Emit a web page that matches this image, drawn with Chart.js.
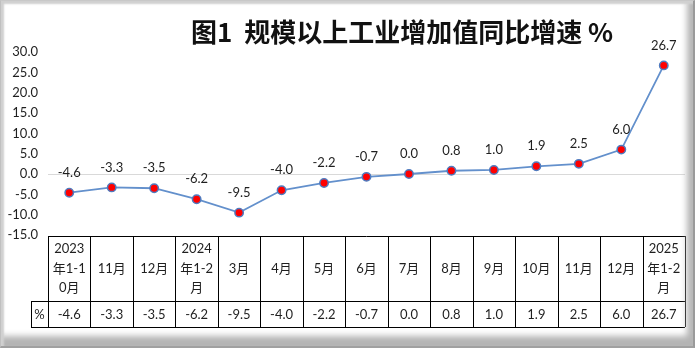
<!DOCTYPE html>
<html>
<head>
<meta charset="utf-8">
<script src="https://cdn.jsdelivr.net/npm/chart.js@4/dist/chart.umd.min.js"></script>
<style>
  html, body { margin: 0; padding: 0; background: #fff; }
  #wrap { position: relative; width: 695px; height: 348px; }
  #frame {
    position: absolute; left: 0; top: 0; width: 695px; height: 348px;
    box-sizing: border-box; pointer-events: none;
    border-top: 1px solid #c8c8c8; border-left: 1px solid #c0c0c0;
    border-right: 2px solid #9a9a9a; border-bottom: 2px solid #a0a0a0;
    box-shadow: inset 3px 3px 2px #d0d0d0, inset -6px -10px 6px #b4b4b4;
  }
</style>
</head>
<body>
<div id="wrap">
  <canvas id="canvas" width="695" height="348"></canvas>
  <div id="frame"></div>
</div>
<script>
const categories = [
  ['2023', '年1-1', '0月'], '11月', '12月', ['2024', '年1-2', '月'], '3月', '4月', '5月',
  '6月', '7月', '8月', '9月', '10月', '11月', '12月', ['2025', '年1-2', '月']
];
const growth = [-4.6, -3.3, -3.5, -6.2, -9.5, -4.0, -2.2, -0.7, 0.0, 0.8, 1.0, 1.9, 2.5, 6.0, 26.7];
const yTicks = [-15, -10, -5, 0, 5, 10, 15, 20, 25, 30];
const unitLabel = '%';
const titleText = '图1  规模以上工业增加值同比增速 %';

const numFont = '13px Lato, "Noto Sans CJK SC", sans-serif';
const textColor = '#1f1f1f';

// title, value labels above the points and the data table under the axis
const extras = {
  id: 'extras',
  afterDraw(chart) {
    const ctx = chart.ctx;
    const x = chart.scales.x;
    const area = chart.chartArea;
    const meta = chart.getDatasetMeta(0);

    ctx.save();
    ctx.fillStyle = '#111';
    ctx.font = 'bold 26px "Noto Sans CJK SC", serif';
    ctx.textAlign = 'left';
    ctx.textBaseline = 'middle';
    ctx.fillText(titleText, 191, 32);

    ctx.font = numFont;
    ctx.fillStyle = textColor;
    ctx.textAlign = 'center';
    meta.data.forEach((pt, i) => {
      ctx.fillText(growth[i].toFixed(1), pt.x, pt.y - 20);
    });

    // table
    const step = x.getPixelForValue(1) - x.getPixelForValue(0);
    const left = x.getPixelForValue(0) - step / 2;
    const right = left + step * categories.length;
    const top = area.bottom + 1, mid = top + 65, bottom = mid + 26, unitLeft = 31;
    ctx.strokeStyle = '#000';
    ctx.lineWidth = 1;
    ctx.beginPath();
    ctx.moveTo(left, top + 0.5); ctx.lineTo(right, top + 0.5);
    ctx.moveTo(unitLeft, mid + 0.5); ctx.lineTo(right, mid + 0.5);
    ctx.moveTo(unitLeft, bottom + 0.5); ctx.lineTo(right, bottom + 0.5);
    ctx.moveTo(unitLeft + 0.5, mid); ctx.lineTo(unitLeft + 0.5, bottom);
    for (let i = 0; i <= categories.length; i++) {
      const cx = Math.round(left + step * i) + 0.5;
      ctx.moveTo(cx, top); ctx.lineTo(cx, bottom);
    }
    ctx.stroke();

    categories.forEach((c, i) => {
      const cx = left + step * (i + 0.5);
      const lines = Array.isArray(c) ? c : [c];
      lines.forEach((ln, j) => {
        ctx.fillText(ln, cx, (top + mid) / 2 + (j - (lines.length - 1) / 2) * 19.5);
      });
      ctx.fillText(growth[i].toFixed(1), cx, (mid + bottom) / 2 + 1);
    });
    ctx.fillText(unitLabel, (unitLeft + left) / 2, (mid + bottom) / 2 + 1);
    ctx.restore();
  }
};

new Chart(document.getElementById('canvas'), {
  type: 'line',
  data: {
    labels: categories,
    datasets: [{
      data: growth,
      borderColor: '#6390cc',
      borderWidth: 1.8,
      pointBackgroundColor: '#ff0000',
      pointBorderColor: '#4f7bbf',
      pointBorderWidth: 1.5,
      pointRadius: 4.2,
      tension: 0
    }]
  },
  options: {
    responsive: false,
    animation: false,
    layout: { padding: { left: 0, right: 10, top: 52, bottom: 113 } },
    plugins: { legend: { display: false }, tooltip: { enabled: false } },
    scales: {
      x: { display: false, offset: true },
      y: {
        min: -15, max: 30,
        afterFit(scale) { scale.width = 48; },
        afterBuildTicks(scale) { scale.ticks = yTicks.map(v => ({ value: v })); },
        border: { display: false },
        grid: {
          drawTicks: false,
          color: ctx => ctx.tick && ctx.tick.value === 0 ? '#d9d9d9' : 'rgba(0,0,0,0)'
        },
        ticks: {
          padding: 10,
          color: textColor,
          font: { family: 'Lato, sans-serif', size: 13 },
          callback: v => Number(v).toFixed(1)
        }
      }
    }
  },
  plugins: [extras]
});
</script>
</body>
</html>
